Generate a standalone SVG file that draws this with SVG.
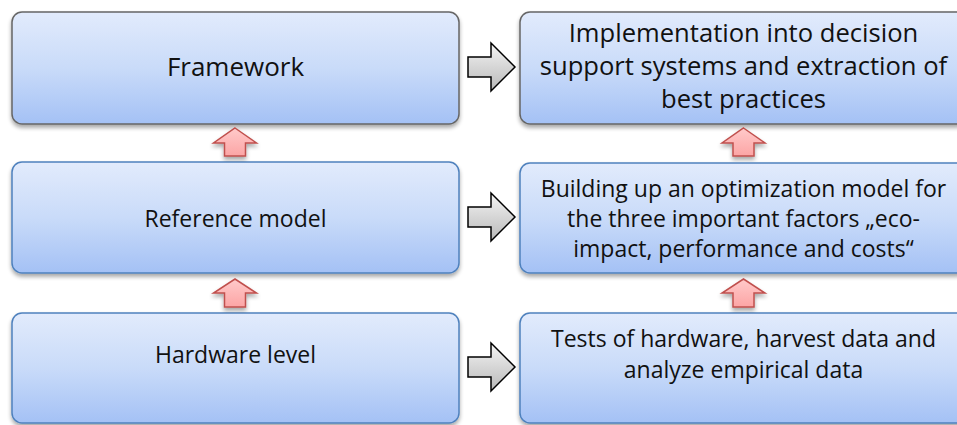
<svg xmlns="http://www.w3.org/2000/svg" width="957" height="425" viewBox="0 0 957 425">
<defs>
  <linearGradient id="boxGrad" x1="0" y1="0" x2="0" y2="1">
    <stop offset="0" stop-color="#e2ebfc"/>
    <stop offset="0.5" stop-color="#c9dbf9"/>
    <stop offset="1" stop-color="#a4c1f5"/>
  </linearGradient>
  <linearGradient id="grayGrad" x1="0" y1="0" x2="0" y2="1">
    <stop offset="0" stop-color="#f4f4f4"/>
    <stop offset="1" stop-color="#b8b8b8"/>
  </linearGradient>
  <linearGradient id="redGrad" x1="0" y1="0" x2="0" y2="1">
    <stop offset="0" stop-color="#ffcaca"/>
    <stop offset="1" stop-color="#fca5a5"/>
  </linearGradient>
  <filter id="shadow" x="-10%" y="-10%" width="120%" height="130%">
    <feGaussianBlur in="SourceAlpha" stdDeviation="2"/>
    <feOffset dx="0" dy="3" result="b"/>
    <feComponentTransfer><feFuncA type="linear" slope="0.35"/></feComponentTransfer>
    <feMerge><feMergeNode/><feMergeNode in="SourceGraphic"/></feMerge>
  </filter>
</defs>
<style>
  .box { fill: url(#boxGrad); stroke-width: 1.5; filter: url(#shadow); }
  .gray { stroke: #666666; }
  .blue { stroke: #4f81bd; }
  text { font-family: "Open Sans", "Liberation Sans", sans-serif; fill: #111; text-anchor: middle; }
  .big { font-size: 26px; }
  .top { font-size: 25.6px; }
  .mid { font-size: 23px; }
  .garrow { fill: url(#grayGrad); stroke: #000; stroke-width: 1.5; stroke-linejoin: miter; }
  .rarrow { fill: url(#redGrad); stroke: #c0504d; stroke-width: 1.5; filter: url(#shadow); }
</style>

<g id="framework">
  <rect class="box gray" x="12" y="12" width="447" height="112" rx="10"/>
  <text class="big" x="235.5" y="76">Framework</text>
</g>
<g id="implementation">
  <rect class="box gray" x="520" y="12" width="447" height="112" rx="10"/>
  <text class="top" x="743.5" y="42">Implementation into decision</text>
  <text class="top" x="743.5" y="75">support systems and extraction of</text>
  <text class="top" x="743.5" y="108">best practices</text>
</g>
<g id="reference-model">
  <rect class="box blue" x="12" y="162" width="447" height="111" rx="10"/>
  <text class="mid" x="235.5" y="227">Reference model</text>
</g>
<g id="optimization-model">
  <rect class="box blue" x="520" y="163" width="447" height="110" rx="10"/>
  <text class="mid" x="743.5" y="197">Building up an optimization model for</text>
  <text class="mid" x="743.5" y="227">the three important factors „eco-</text>
  <text class="mid" x="743.5" y="257">impact, performance and costs“</text>
</g>
<g id="hardware-level">
  <rect class="box blue" x="12" y="313" width="447" height="110" rx="10"/>
  <text class="mid" x="235.5" y="363">Hardware level</text>
</g>
<g id="tests">
  <rect class="box blue" x="520" y="313" width="447" height="110" rx="10"/>
  <text class="mid" x="743.5" y="347">Tests of hardware, harvest data and</text>
  <text class="mid" x="743.5" y="378">analyze empirical data</text>
</g>

<g id="connectors">
  <polygon class="garrow" points="468,57 491,57 491,43 515,67 491,91 491,77 468,77"/>
  <polygon class="garrow" points="468,207 491,207 491,193 515,217 491,241 491,227 468,227"/>
  <polygon class="garrow" points="468,357 491,357 491,343 515,367 491,391 491,377 468,377"/>
  <polygon class="rarrow" points="235,128 256.5,143 245.5,143 245.5,156 224.5,156 224.5,143 213.5,143"/>
  <polygon class="rarrow" points="743.5,128 765,143 754,143 754,156 733,156 733,143 722,143"/>
  <polygon class="rarrow" points="235,279 256.5,293 245.5,293 245.5,307 224.5,307 224.5,293 213.5,293"/>
  <polygon class="rarrow" points="743.5,279 765,293 754,293 754,307 733,307 733,293 722,293"/>
</g>
</svg>
